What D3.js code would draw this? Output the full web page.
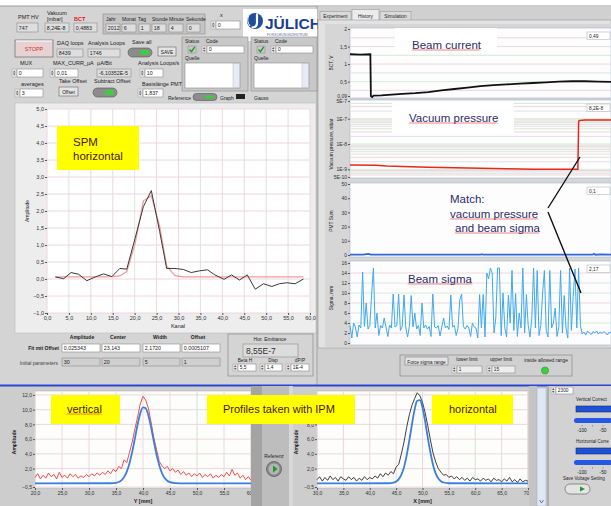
<!DOCTYPE html>
<html>
<head>
<meta charset="utf-8">
<script src="https://cdn.jsdelivr.net/npm/d3@7"></script>
<style>
body { margin: 0; background: #fff; }
svg { display: block; }
text { font-family: "Liberation Sans", Arial, sans-serif; }
</style>
</head>
<body>
<div id="chart"></div>
<script>
// ---------- data ----------
// SPM horizontal profile (Kanal vs Amplitude)
const spmChannel = [1.9,3.8,5.5,7.2,9.1,11,12.9,14.8,16.6,18.2,20.1,22,23.8,25.7,27.3,29.2,31.1,32.9,34.8,36.6,38.3,40.4,42.1,43.9,45.7,47.5,49.4,51.3,53,54.7,56.6,58.5];
const spmMeasured = [0.06,0.01,0.19,0.14,-0.05,0.06,0.15,0.07,0.31,0.29,1.2,2.13,2.6,1.4,0.31,0.31,0.28,0.19,0.24,0.27,0.12,-0.01,0.12,-0.03,0.12,-0.30,-0.14,-0.22,-0.14,-0.11,-0.14,0.0];
const spmFit = [0.06,0.06,0.06,0.06,0.06,0.06,0.06,0.07,0.09,0.22,1.05,2.3,2.45,1.55,0.38,0.1,0.06,0.06,0.06,0.06,0.06,0.06,0.06,0.06,0.06,0.06,0.06,0.06,0.06,0.06,0.06,0.06];
const spmXTicks = [0,5,10,15,20,25,30,35,40,45,50,55,60];
const spmYTicks = [-1,-0.5,0,0.5,1,1.5,2,2.5,3,3.5,4,4.5,5];

// History tab: beam current (BCT, V)
const bctTime = [0,4,7.8,8,8.5,9,12,16,20,25,30,35,40,45,50,55,60,65,70,75,80,85,90,95,100];
const bctValue = [1.28,1.27,1.28,0.09,0.06,0.1,0.11,0.13,0.15,0.17,0.2,0.25,0.29,0.33,0.37,0.4,0.42,0.44,0.46,0.48,0.5,0.51,0.51,0.5,0.49];
const bctTicks = [0.09,0.5,1,1.5,2];
const bctTickLabels = ["0,09","0,5","1","1,5","2"];

// History tab: vacuum pressure (mbar)
const vacTime = [0,10,14,20,30,40,50,60,70,80,87.3,87.6,88,90,100];
const vacValue = [1.5e-9,1.45e-9,1.35e-9,1.3e-9,1.22e-9,1.15e-9,1.1e-9,1.05e-9,1.02e-9,1.0e-9,1.0e-9,8e-8,8.5e-8,8.8e-8,8.8e-8];
const vacTicks = [5e-10,1e-9,1e-8,1e-7,5e-7];
const vacTickLabels = ["5E-10","1E-9","1E-8","1E-7","5E-7"];

// History tab: PMT sum
const pmtTime = [0,5,7,8,50,50.5,51,93,93.5,94,96,100];
const pmtValue = [0.2,0.3,0.8,0.2,0.2,0.6,0.2,0.2,0.8,0.2,0.5,0.2];
const pmtTicks = [0,10,20,30,40,50];

// History tab: beam sigma (mm), one value per sample
const sigmaValue = [3.5,1.0,4.0,3.2,1.2,3.6,3.0,14.2,3.3,8.0,2.8,3.5,9.6,15.0,3.0,6.0,1.5,3.5,3.0,5.0,
  3.2,1.3,3.6,3.0,9.8,3.2,3.5,9.8,2.5,3.3,9.6,3.0,1.2,3.4,9.5,3.2,6.0,2.8,3.5,1.5,
  8.0,3.0,3.6,2.8,3.3,1.3,9.8,3.2,3.0,3.5,1.4,3.2,5.0,3.0,3.4,2.7,9.6,3.2,3.5,1.5,
  3.0,8.6,9.8,3.3,2.8,3.5,3.0,1.3,4.0,3.2,3.0,1.0,9.7,3.0,9.7,1.2,14.0,12.8,15.0,14.0,
  2.0,5.0,15.0,15.0,1.5,10.0,3.0,1.2,9.6,4.0,14.5,2.5,9.9,1.3,6.0,3.0,15.0,2.0,9.7,3.5,
  1.2,5.0,15.0,3.0,14.5,1.5,3.5,10.0,14.5,2.5,1.2,14.5,3.0,4.0,7.0,1.3,3.2,14.5,2.0,9.5,
  3.0,1.0,15.0,2.5,9.3,14.8,3.0,15.0,3.5,1.8,2.2,1.6,2.4,2.0,1.7,2.3,2.0,2.4,1.8,2.2,
  1.9,2.3,2.0,1.6,2.2,2.0];
const sigmaTicks = [0,2,4,6,8,10,12,14,16];

// IPM vertical profile, 20..60 mm every 0.5 mm
const vertStart = 20, vertStep = 0.5;
const vertMeasured = [0.8,1.3,0.6,1.1,0.7,1.4,0.9,1.2,0.6,1.5,0.8,1.1,0.7,1.3,0.9,1.2,0.7,1.0,0.8,1.2,
  0.9,1.3,1.0,1.4,1.1,1.5,1.2,1.7,1.3,1.9,1.6,2.3,2.0,3.2,2.8,4.2,5.6,7.4,9.0,10.8,
  11.8,11.3,10.2,8.3,6.2,4.6,3.0,2.4,2.0,2.3,1.7,2.0,1.5,1.8,1.2,1.6,1.1,1.4,0.9,1.3,
  1.0,1.4,0.8,1.2,0.9,1.3,0.7,1.1,0.8,1.2,0.9,1.5,1.0,1.9,1.1,1.4,0.7,1.1,0.5,0.9,0.4];
const vertFitPos = [20,34,35,35.5,36,36.5,37,37.5,38,38.5,39,39.5,40,40.5,41,41.5,42,42.5,43,43.5,44,44.5,45,46,47,60];
const vertFitVal = [0,0.01,0.07,0.18,0.41,0.84,1.58,2.72,4.27,6.1,7.98,9.5,10.3,10.2,9.2,7.6,5.7,3.9,2.5,1.4,0.73,0.35,0.15,0.02,0,0];
const vertXTicks = [20,25,30,35,40,45,50,55,60];

// IPM horizontal profile, 30..70 mm every 0.5 mm
const horStart = 30, horStep = 0.5;
const horMeasured = [0.5,0.9,0.3,0.8,0.4,1.0,0.5,0.8,0.3,0.9,0.6,0.4,0.9,0.5,0.8,0.3,0.7,0.4,0.9,0.5,
  0.8,0.6,1.0,0.7,1.3,0.9,1.4,1.1,1.6,1.3,2.2,2.6,4.0,5.6,7.6,9.3,10.6,11.5,12.3,11.9,
  11.0,9.6,7.8,5.9,4.1,2.9,2.0,1.5,1.1,1.2,0.8,1.0,0.6,0.9,0.5,0.8,0.4,0.7,0.3,0.8,
  0.5,0.6,0.3,0.7,0.4,0.6,0.2,0.7,0.4,0.5,0.2,0.6,0.3,0.8,0.2,0.5,0.1,0.6,0.2,0.4,0.3];
const horFitPos = [30,43.5,44,44.5,45,45.5,46,46.5,47,47.5,48,48.5,49,49.5,50,50.5,51,51.5,52,52.5,53,53.5,54,55,70];
const horFitVal = [0,0.01,0.03,0.09,0.24,0.57,1.18,2.2,3.8,5.8,8.0,10.0,11.2,11.3,10.3,8.4,6.2,4.2,2.5,1.35,0.66,0.29,0.11,0.01,0];
const horXTicks = [30,35,40,45,50,55,60,65,70];
const ipmYTicks = [-0.5,2,4,6,8,10,12];

// ---------- drawing ----------
const W = 611, H = 506;
const svg = d3.select("#chart").append("svg").attr("width", W).attr("height", H);
const de = d3.formatLocale({decimal: ",", thousands: ".", grouping: [3], currency: ["", "€"]});
const f1 = de.format(".1f");
const panel = "#d4d4d4";
const noteColor = "#2e2a6e";
const yellowText = "#4a1800";

function label(x, y, s, o = {}) {
  return svg.append("text").attr("x", x).attr("y", y).text(s)
    .attr("font-size", o.size || 5.5).attr("fill", o.fill || "#222")
    .attr("text-anchor", o.anchor || "start")
    .attr("font-weight", o.bold ? "bold" : null);
}
function rect(x, y, w, h, fill, stroke, sw) {
  return svg.append("rect").attr("x", x).attr("y", y).attr("width", w).attr("height", h)
    .attr("fill", fill || "none").attr("stroke", stroke || "none").attr("stroke-width", sw || 0.6);
}
function field(x, y, w, h, s, o = {}) {
  rect(x, y, w, h, o.fill || "#fff", "#8a8a8a", 0.6);
  if (o.spin) {
    rect(x - 5, y, 4.5, h, "#e4e4e4", "#999", 0.4);
    const cx = x - 2.75, m = y + h / 2;
    svg.append("path").attr("fill", "#666")
      .attr("d", `M${cx - 1.3},${m - 0.6}l1.3,-2l1.3,2zM${cx - 1.3},${m + 0.6}l1.3,2l1.3,-2z`);
  }
  label(x + 1.8, y + h - 2, s, {size: o.size || 5.3});
}
function toggle(x, y, w, h) {
  svg.append("rect").attr("x", x).attr("y", y).attr("width", w).attr("height", h).attr("rx", h / 2)
    .attr("fill", "#8c8c8c").attr("stroke", "#555").attr("stroke-width", 0.6);
  svg.append("rect").attr("x", x + w * 0.5).attr("y", y + 2).attr("width", w * 0.38).attr("height", h - 4).attr("rx", 2)
    .attr("fill", "#3ccf3c");
}
function check(x, y) {
  rect(x, y, 8, 7, "#c8c8c8", "#888", 0.5);
  svg.append("path").attr("d", `M${x + 1.5},${y + 3.5}l2,2.2l3.2,-4.8`).attr("fill", "none")
    .attr("stroke", "#1a9a1a").attr("stroke-width", 1.4);
}
function squiggle(t) {
  const b = t.node().getBBox();
  let d = `M${b.x},${b.y + b.height - 0.5}`;
  for (let x = b.x; x < b.x + b.width - 2; x += 2) d += "l1,-1l1,1";
  svg.append("path").attr("d", d).attr("fill", "none").attr("stroke", "#e02020").attr("stroke-width", 0.6);
}
function styleAxis(g, size) {
  g.select(".domain").remove();
  g.selectAll(".tick line").attr("stroke", "#555");
  g.selectAll(".tick text").attr("font-size", size || 5.5).attr("fill", "#333")
    .attr("font-family", "Liberation Sans, Arial, sans-serif");
}

svg.append("rect").attr("width", W).attr("height", H).attr("fill", "#fff");

// ===== upper left: front panel =====
rect(0, 6, 318, 380, panel);
svg.append("line").attr("x1", 0).attr("x2", W).attr("y1", 6).attr("y2", 6).attr("stroke", "#9a9a9a");
svg.append("line").attr("x1", 317).attr("x2", 317).attr("y1", 6).attr("y2", 386).attr("stroke", "#a0a0a0");

label(18, 19, "PMT HV");
label(47, 15, "Vakuum");
label(47, 20.5, "[mbar]");
label(74, 20.5, "BCT", {fill: "#e02020", bold: true});
field(17, 23, 21, 9, "747", {fill: "#dedede"});
field(45, 23, 24, 9, "8,24E-8", {fill: "#dedede"});
field(74, 23, 23, 9, "0,4883", {fill: "#dedede"});

rect(103, 14, 102, 20, "#c4c4c4", "#8a8a8a", 0.6);
[["Jahr", 106, 106, 14, "2012"], ["Monat", 122, 122, 14, "6"], ["Tag", 138, 139, 11, "1"],
 ["Stunde", 152, 152, 14, "18"], ["Minute", 169, 169, 14, "4"], ["Sekunde", 186, 187, 13, "0"]]
  .forEach(([l, lx, bx, bw, v]) => { label(lx, 21, l, {size: 5}); field(bx, 24, bw, 8, v, {fill: "#dedede"}); });

label(220, 17, "x");
field(216, 21, 24, 8, "0", {spin: true});

// Jülich logo
rect(243, 9, 74, 32, "#fff");
svg.append("circle").attr("cx", 255).attr("cy", 21).attr("r", 8).attr("fill", "#1f4e9c");
svg.append("path").attr("d", "M257,13.5 L257,23 Q257,27.5 251.5,27.5").attr("fill", "none")
  .attr("stroke", "#fff").attr("stroke-width", 2.2);
svg.append("path").attr("d", "M249,15 Q246,21 250,26").attr("fill", "none")
  .attr("stroke", "#fff").attr("stroke-width", 1);
label(265, 29, "JÜLICH", {size: 15.5, bold: true, fill: "#1b3f8f"});
label(267, 35.5, "FORSCHUNGSZENTRUM", {size: 3.4, fill: "#5570a0"});

// STOPP and loop counters
rect(15, 40, 38, 17, "#e6d2d2", "#777", 0.8);
svg.append("line").attr("x1", 16).attr("x2", 52).attr("y1", 41).attr("y2", 41).attr("stroke", "#fff");
label(34, 51, "STOPP", {fill: "#e02828", anchor: "middle", size: 5.5});
label(57, 45, "DAQ loops");
field(57, 49, 26, 8, "8439", {fill: "#dedede"});
label(88, 45, "Analysis Loops");
field(88, 49, 32, 8, "1746", {fill: "#dedede"});
label(132, 44, "Save all");
toggle(128, 48, 24, 9);
rect(158, 47, 18, 9, "#e4e4e4", "#666", 0.6);
label(167, 54, "SAVE", {anchor: "middle", size: 4.8});

// status clusters
[[182, 66], [251, 66]].forEach(([x, w]) => {
  rect(x, 37, w, 54, "#c8c8c8", "#8a8a8a", 0.6);
  label(x + 3, 43, "Status", {size: 5});
  check(x + 6, 46);
  label(x + 24, 43, "Code", {size: 5});
  field(x + 25, 46, w - 29, 7, "0", {spin: true});
  label(x + 3, 60, "Quelle", {size: 5});
  rect(x + 3, 63, w - 11, 25, "#fff", "#8a8a8a", 0.6);
  rect(x + w - 15, 63.5, 6.5, 24, "#e6ecf6", "#aab", 0.4);
});

label(20, 65, "MUX");
field(17, 69, 26, 8, "0", {spin: true});
label(53, 65, "MAX_CURR_µA");
field(55, 69, 23, 8, "0,01", {spin: true});
label(97, 65, "µA/Bit");
field(97, 69, 34, 8, "-6,10352E-5", {fill: "#dedede"});
label(138, 65, "Analysis Loops/s");
field(145, 69, 18, 8, "10", {spin: true});
label(21, 86, "averages");
field(20, 89, 23, 8, "3", {spin: true});
label(59, 83, "Take Offset");
rect(59, 87, 19, 9, "#e4e4e4", "#666", 0.6);
label(68.5, 94, "Offset", {anchor: "middle", size: 4.8});
label(94, 83, "Subtract Offset");
toggle(93, 88, 24, 9);
label(142, 86, "Basislänge PMT");
field(143, 89, 20, 8, "1,837", {spin: true});
label(168, 99.5, "Reference", {size: 5});
toggle(193, 93.5, 24, 7);
label(220, 99.5, "Graph", {size: 5});
rect(236, 94, 9, 5, "#222");
label(254, 99.5, "Gauss", {size: 5});

// ----- SPM graph -----
rect(15, 103, 301, 230, "#ededed", "#bcbcbc", 0.6);
const spmX = d3.scaleLinear().domain([0, 60]).range([47, 310]);
const spmY = d3.scaleLinear().domain([-1, 5]).range([313, 109]);
rect(47, 109, 263, 204, "#fff");
spmXTicks.forEach((t, i) => svg.append("line").attr("x1", spmX(t)).attr("x2", spmX(t)).attr("y1", 109).attr("y2", 313)
  .attr("stroke", i % 3 === 1 ? "#d8e8d8" : "#ecd8e0"));
spmYTicks.forEach(t => svg.append("line").attr("x1", 47).attr("x2", 310).attr("y1", spmY(t)).attr("y2", spmY(t))
  .attr("stroke", "#ecd6de"));
svg.append("g").attr("transform", "translate(0,313)")
  .call(d3.axisBottom(spmX).tickValues(spmXTicks).tickFormat(f1).tickSize(2).tickPadding(1.5)).call(styleAxis);
svg.append("g").attr("transform", "translate(47,0)")
  .call(d3.axisLeft(spmY).tickValues(spmYTicks).tickFormat(f1).tickSize(2).tickPadding(1)).call(styleAxis);
label(178, 328, "Kanal", {anchor: "middle"});
label(0, 0, "Amplitude", {anchor: "middle", size: 5}).attr("transform", "translate(29,211) rotate(-90)");
const spmLine = d3.line().x((d, i) => spmX(spmChannel[i])).y(d => spmY(d));
svg.append("path").datum(spmFit).attr("d", spmLine).attr("fill", "none").attr("stroke", "#f29a9a").attr("stroke-width", 1.3);
svg.append("path").datum(spmMeasured).attr("d", spmLine).attr("fill", "none").attr("stroke", "#3a3a3a").attr("stroke-width", 1);
rect(57, 126, 82, 44, "#ffff00");
label(73, 146, "SPM", {size: 11.5, fill: yellowText});
label(73, 160, "horizontal", {size: 11.5, fill: yellowText});

// fit results
[["Amplitude", 82], ["Center", 118], ["Width", 160], ["Offset", 198]].forEach(([s, x]) => label(x, 338.5, s, {anchor: "middle", bold: true, size: 5}));
label(59, 350, "Fit mit Offset", {anchor: "end", bold: true, size: 5});
label(58, 364.5, "Initial parameters", {anchor: "end", size: 5, fill: "#444"});
[[62, 38, "0,025343", "30"], [102, 38, "23,143", "20"], [143, 37, "2,1720", "5"], [182, 38, "0,0005107", "1"]]
  .forEach(([x, w, a, b]) => { field(x, 344, w, 8, a); field(x, 358, w, 8, b, {fill: "#cfcfcf"}); });
rect(228, 334, 85, 42, "none", "#8a8a8a", 0.7);
label(270, 341, "Hor. Emittance", {anchor: "middle", size: 5});
rect(243, 344, 55, 13, "#dcdcdc", "#8a8a8a", 0.6);
label(246, 354, "8,55E-7", {size: 8.5, fill: "#333"});
label(245, 361.5, "Beta H", {anchor: "middle", size: 4.8});
label(273, 361.5, "Disp", {anchor: "middle", size: 4.8});
label(300, 361.5, "dP/P", {anchor: "middle", size: 4.8});
field(238, 364, 18, 7, "5,5", {spin: true, size: 4.8});
field(265, 364, 17, 7, "1,4", {spin: true, size: 4.8});
field(291, 364, 18, 7, "1E-4", {spin: true, size: 4.8});

// ===== upper right: History tab =====
rect(318, 7, 293, 379, "#d0d0d0");
[["Experiment", 320, 31, false], ["History", 352, 27, true], ["Simulation", 380, 31, false]].forEach(([s, x, w, sel]) => {
  rect(x, sel ? 9.5 : 11.5, w, sel ? 11 : 9, sel ? "#ececec" : "#dadada", "#9a9a9a", 0.6);
  label(x + w / 2, 18, s, {anchor: "middle", size: 4.8});
});
rect(318, 20, 293, 328, "#e2e2e2", "#9a9a9a", 0.6);
rect(325, 24, 286, 323, "#d6d6d6");

const tX = d3.scaleLinear().domain([0, 100]).range([350, 611]);
function historyPlot(top, bottom, y, ticks, fmt, title, legend, ty, grid) {
  rect(350, top, 261, bottom - top, "#fdfdfd", "#a8b4cc", 0.6);
  grid.forEach((v, i) => svg.append("line").attr("x1", 350).attr("x2", 611).attr("y1", y(v)).attr("y2", y(v))
    .attr("stroke", ["#efd6df", "#d6ead6", "#e2e2e2"][i % 3]));
  svg.append("g").attr("transform", "translate(350,0)")
    .call(d3.axisLeft(y).tickValues(ticks).tickFormat(fmt).tickSize(2).tickPadding(1)).call(g => styleAxis(g, 5));
  label(0, 0, title, {anchor: "middle", size: 4.8}).attr("transform", `translate(333,${ty}) rotate(-90)`);
  rect(587, top + 4, 23, 7.5, "#fff", "#aaa", 0.5);
  label(589, top + 10, legend, {size: 4.8});
}

// beam current
const bctY = d3.scaleLinear().domain([0.09, 2]).range([96, 29]);
historyPlot(28, 98, bctY, bctTicks, (d, i) => bctTickLabels[i], "BCT, V", "0,49", 63,
  [0.25, 0.5, 0.75, 1, 1.25, 1.5, 1.75]);
rect(395, 28, 102, 25, "#fff");
svg.append("path").datum(bctValue).attr("fill", "none").attr("stroke", "#111").attr("stroke-width", 1.8)
  .attr("d", d3.line().x((d, i) => tX(bctTime[i])).y(d => bctY(d)));
squiggle(label(412, 49, "Beam current", {size: 11.5, fill: noteColor}));

// vacuum pressure
const vacY = d3.scaleLog().domain([5e-10, 5e-7]).range([177, 101]);
const vacGrid = [];
[-10, -9, -8, -7].forEach(e => d3.range(1, 10).forEach(k => {
  const v = k * Math.pow(10, e);
  if (v > 5e-10 && v < 5e-7) vacGrid.push(v);
}));
historyPlot(100, 178, vacY, vacTicks, (d, i) => vacTickLabels[i], "Vacuum pressure, mbar", "8,2E-8", 144, vacGrid);
rect(392, 101, 122, 32, "#fff");
svg.append("path").datum(vacValue).attr("fill", "none").attr("stroke", "#e8281c").attr("stroke-width", 1.5)
  .attr("d", d3.line().x((d, i) => tX(vacTime[i])).y(d => vacY(d)));
squiggle(label(409, 122, "Vacuum pressure", {size: 11.5, fill: noteColor}));

// PMT sum
const pmtY = d3.scaleLinear().domain([0, 50]).range([255, 184]);
historyPlot(183, 257, pmtY, pmtTicks, d => d, "PMT Sum", "0,1", 221, []);
svg.append("path").datum(pmtValue).attr("fill", "none").attr("stroke", "#3566d6").attr("stroke-width", 1.8)
  .attr("d", d3.line().x((d, i) => tX(pmtTime[i])).y(d => pmtY(d)));

// beam sigma
const sgX = d3.scaleLinear().domain([0, sigmaValue.length - 1]).range([350, 611]);
const sgY = d3.scaleLinear().domain([0, 16]).range([343, 263]);
historyPlot(261, 345, sgY, sigmaTicks, d => d, "Sigma, mm", "2,17", 298, [2, 4, 6, 8, 10, 12, 14]);
svg.append("path").datum(sigmaValue).attr("fill", "none").attr("stroke", "#3fa9ef").attr("stroke-width", 1)
  .attr("d", d3.line().x((d, i) => sgX(i)).y(d => sgY(d)));
squiggle(label(408, 283, "Beam sigma", {size: 11.5, fill: noteColor}));

// match annotation
label(450, 203, "Match:", {size: 11.5, fill: noteColor});
squiggle(label(450, 218, "vacuum pressure", {size: 11.5, fill: noteColor}));
squiggle(label(455, 232, "and beam sigma", {size: 11.5, fill: noteColor}));
svg.append("path").attr("d", "M580,157L548,208M548,212L581,293").attr("stroke", "#111").attr("stroke-width", 1.4).attr("fill", "none");

// force sigma range
rect(400, 355, 172, 21, "none", "#8a8a8a", 0.7);
rect(405, 357, 43, 8, "#e4e4e4", "#666", 0.5);
label(426.5, 363.5, "Force sigma range", {anchor: "middle", size: 4.6});
label(467, 361, "lower limit", {anchor: "middle", size: 4.8});
field(457, 366, 25, 7, "1", {spin: true, fill: "#eee", size: 4.8});
label(501, 361, "upper limit", {anchor: "middle", size: 4.8});
field(492, 366, 23, 7, "15", {spin: true, fill: "#eee", size: 4.8});
label(546, 362, "inside allowed range", {anchor: "middle", size: 4.8});
svg.append("circle").attr("cx", 545).attr("cy", 370.5).attr("r", 3.6).attr("fill", "#3ad23a").attr("stroke", "#2a7a2a").attr("stroke-width", 0.5);

// ===== bottom: IPM profiles =====
rect(0, 386, W, 120, "#cdcdcd");
svg.append("line").attr("x1", 0).attr("x2", W).attr("y1", 385.5).attr("y2", 385.5).attr("stroke", "#2a46d8").attr("stroke-width", 2);
const ipmY = d3.scaleLinear().domain([-0.5, 12.4]).range([487, 392]);

function ipmPlot(x0, x1, domain, ticks, start, step, measured, mColor, fitPos, fitVal, xTitle, yTicks) {
  const x = d3.scaleLinear().domain(domain).range([x0, x1]);
  rect(x0, 391, x1 - x0, 97, "#fdfdfb", "#b0b0b0", 0.5);
  ticks.forEach((t, i) => svg.append("line").attr("x1", x(t)).attr("x2", x(t)).attr("y1", 391).attr("y2", 488)
    .attr("stroke", i === 6 ? "#cfe6cf" : "#ead8de"));
  ipmYTicks.forEach(t => svg.append("line").attr("x1", x0).attr("x2", x1).attr("y1", ipmY(t)).attr("y2", ipmY(t))
    .attr("stroke", "#ead8de"));
  svg.append("g").attr("transform", "translate(0,488)")
    .call(d3.axisBottom(x).tickValues(ticks).tickFormat(f1).tickSize(2).tickPadding(1.5)).call(g => styleAxis(g, 5));
  svg.append("g").attr("transform", `translate(${x0},0)`)
    .call(d3.axisLeft(ipmY).tickValues(yTicks).tickFormat(f1).tickSize(2).tickPadding(1)).call(g => styleAxis(g, 5));
  label((x0 + x1) / 2, 503, xTitle, {anchor: "middle", bold: true, size: 5.5});
  label(0, 0, "Amplitude", {anchor: "middle", bold: true, size: 5}).attr("transform", `translate(${x0 - 19},442) rotate(-90)`);
  svg.append("path").datum(measured).attr("fill", "none").attr("stroke", mColor).attr("stroke-width", 0.9)
    .attr("d", d3.line().x((d, i) => x(start + i * step)).y(d => ipmY(d)));
  svg.append("path").datum(fitVal).attr("fill", "none").attr("stroke", "#3a7fe0").attr("stroke-width", 1.8)
    .attr("d", d3.line().curve(d3.curveMonotoneX).x((d, i) => x(fitPos[i])).y(d => ipmY(d)));
}
ipmPlot(35, 251, [20, 60], vertXTicks, vertStart, vertStep, vertMeasured, "#f03a3a", vertFitPos, vertFitVal, "Y [mm]", ipmYTicks);

// middle strip with Referenz button
rect(251, 386, 11, 120, "#a4a4a4");
rect(262, 386, 27, 120, "#bdbdbd");
rect(289, 386, 4, 120, "#d8d8d8");
label(274, 458, "Referenz", {anchor: "middle", size: 4.8});
svg.append("circle").attr("cx", 274).attr("cy", 469).attr("r", 7.5).attr("fill", "#8a8a8a").attr("stroke", "#555").attr("stroke-width", 0.7);
svg.append("circle").attr("cx", 274).attr("cy", 469).attr("r", 5.5).attr("fill", "#b4b4b4");
svg.append("path").attr("d", "M273,465.5L277.5,469L273,472.5Z").attr("fill", "#1a9a2a");

// the "Profiles taken with IPM" note hides the 10,0 label of this axis
ipmPlot(317, 528, [30, 70], horXTicks, horStart, horStep, horMeasured, "#2a2a2a", horFitPos, horFitVal, "X [mm]",
  ipmYTicks.filter(t => t !== 10 && t !== 12));

// yellow notes
rect(51, 395, 69, 29, "#ffff00");
squiggle(label(67, 413, "vertical", {size: 11, fill: yellowText}));
rect(207, 395, 148, 29, "#ffff00");
label(223, 413, "Profiles taken with IPM", {size: 11, fill: yellowText});
rect(432, 395, 81, 29, "#ffff00");
label(449, 413, "horizontal", {size: 11, fill: yellowText});

// scrollbar and correction panel
rect(529, 386, 8, 120, "#c4c4c4");
rect(537, 388, 9, 118, "#dfe8f5", "#9aa8c0", 0.5);
svg.append("path").attr("d", "M539.5,500L541.5,503L543.5,500").attr("fill", "none").attr("stroke", "#445").attr("stroke-width", 0.7);
rect(547, 386, 64, 120, "#d2d2d2");
svg.append("line").attr("x1", 548).attr("x2", 548).attr("y1", 386).attr("y2", 506).attr("stroke", "#8a8a8a");
field(556, 387, 17, 7, "2300", {spin: true, size: 4.8});
[[401, "Vertical Correct"], [443, "Horizontal Corre"]].forEach(([y, s]) => {
  label(576, y, s, {size: 4.5});
  rect(576, y + 5, 36, 6, "#2050d4", "#1a2a66", 0.6);
  svg.append("rect").attr("x", 574).attr("y", y + 17).attr("width", 38).attr("height", 5).attr("rx", 2.5).attr("fill", "#2458e2");
  [-100, -75, -50, -25].forEach((v, i) => svg.append("line").attr("x1", 582 + i * 10.5).attr("x2", 582 + i * 10.5)
    .attr("y1", y + 24).attr("y2", y + 25.5).attr("stroke", "#555").attr("stroke-width", 0.5));
  label(582, y + 30.5, "-100", {anchor: "middle", size: 4.8});
  label(603, y + 30.5, "-50", {anchor: "middle", size: 4.8});
});
label(563, 480, "Save Voltage Setting", {size: 4.5});
svg.append("rect").attr("x", 565).attr("y", 484).attr("width", 25).attr("height", 10).attr("rx", 5)
  .attr("fill", "#e4e4e4").attr("stroke", "#555").attr("stroke-width", 0.6);
svg.append("path").attr("d", "M580,486.5L585,489L580,491.5Z").attr("fill", "#1a9a2a");
</script>
</body>
</html>
